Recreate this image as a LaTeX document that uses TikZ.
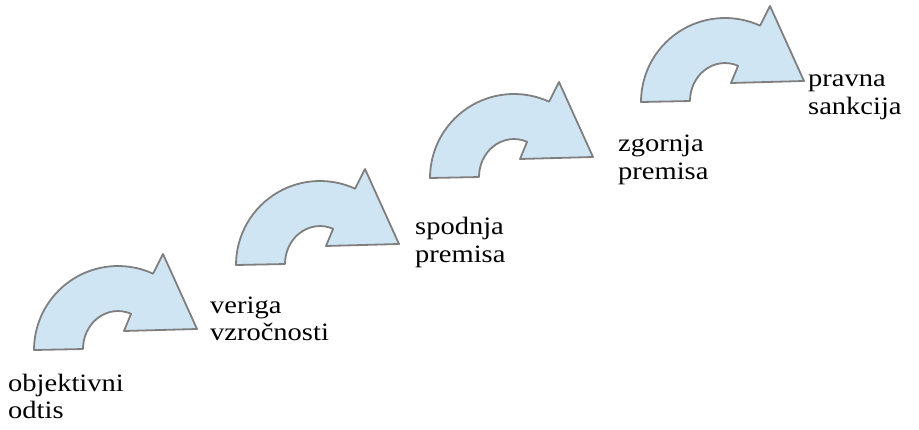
\documentclass[tikz,border=0pt]{standalone}
\usepackage{fontspec}
\setmainfont{Liberation Serif}[FakeStretch=1.14]
\definecolor{arrowfill}{HTML}{D0E5F3}
\definecolor{arrowline}{HTML}{7F7F7F}
\tikzset{
  stepfont/.style={font=\fontsize{25}{28}\selectfont, inner sep=0pt, anchor=base west},
  curvedarrow/.pic={
    \path[fill=arrowfill, draw=arrowline, line width=1.8pt, line join=round]
      (34,79) arc[start angle=180, end angle=65.3, radius=84]
      -- (163,175) -- (197,100) -- (124,98) -- (131.1,115.2)
      arc[start angle=68, end angle=180, x radius=35, y radius=38]
      -- cycle;
  }
}
\newcommand{\twolines}[2]{\begin{tabular}[t]{@{}l@{}}#1\\#2\end{tabular}}
\begin{document}
\begin{tikzpicture}[x=1pt, y=1pt]
  \useasboundingbox (0,0) rectangle (919,429);
  % four curved steps rising to the right
  \pic (s1) at (0,0) {curvedarrow};
  \pic (s2) at (202,85) {curvedarrow};
  \pic (s3) at (396,172) {curvedarrow};
  \pic (s4) at (607,248) {curvedarrow};
  % labels
  \node[stepfont] (t1) at (8,38) {\twolines{objektivni}{odtis}};
  \node[stepfont] (t2) at (210,116) {\twolines{veriga}{vzročnosti}};
  \node[stepfont] (t3) at (415,194) {\twolines{spodnja}{premisa}};
  \node[stepfont] (t4) at (618,277) {\twolines{zgornja}{premisa}};
  \node[stepfont] (t5) at (808,342) {\twolines{pravna}{sankcija}};
\end{tikzpicture}
\end{document}
